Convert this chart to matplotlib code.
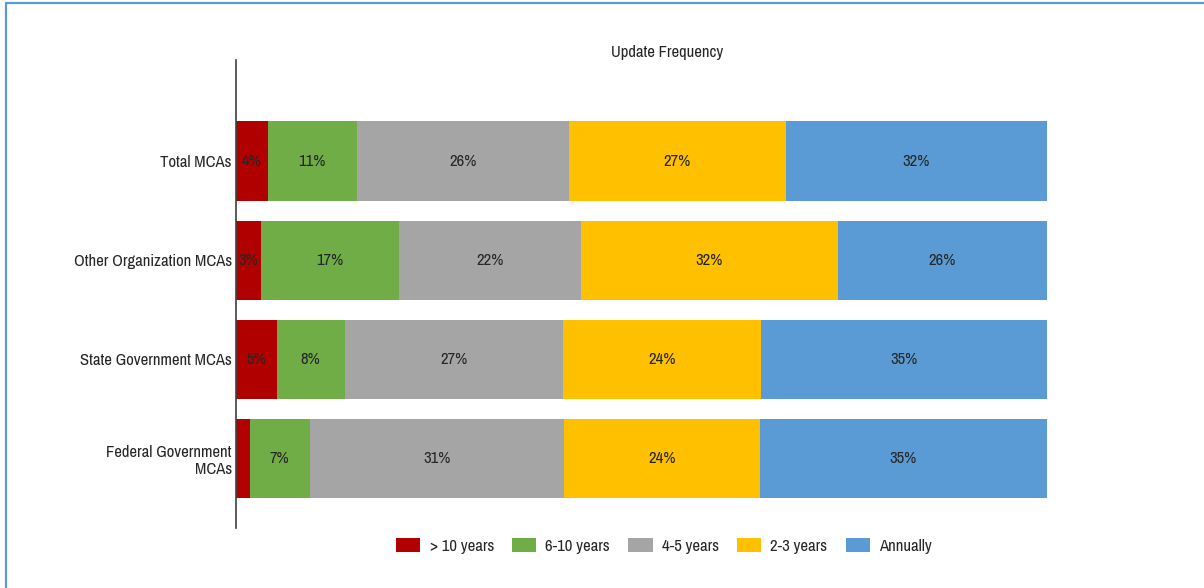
import matplotlib
matplotlib.use("Agg")
import matplotlib.pyplot as plt
from matplotlib.patches import Rectangle
from matplotlib import font_manager

# ---------------------------------------------------------------------------
# data (percent of MCAs per update frequency)
# ---------------------------------------------------------------------------
groups = ["Federal Government\nMCAs", "State Government MCAs",
          "Other Organization MCAs", "Total MCAs"]
series = ["> 10 years", "6-10 years", "4-5 years", "2-3 years", "Annually"]
over_10 = [1.7, 5.0, 3.1, 3.9]
y6_10 = [7.4, 8.4, 17.0, 11.0]
y4_5 = [31.4, 26.9, 22.4, 26.1]
y2_3 = [24.1, 24.4, 31.7, 26.8]
annual = [35.4, 35.3, 25.8, 32.2]
values = [over_10, y6_10, y4_5, y2_3, annual]
colors = ["#B00000", "#70AD47", "#A5A5A5", "#FFC000", "#5B9BD5"]

# pick a narrow sans (the original uses Arial Narrow)
have = {f.name for f in font_manager.fontManager.ttflist}
prefs = ["Liberation Sans Narrow", "Arial Narrow", "Archivo Narrow", "PT Sans Narrow",
         "Roboto Condensed", "Open Sans Condensed", "Fira Sans Condensed",
         "IBM Plex Sans Condensed", "Encode Sans Condensed", "Sofia Sans Condensed",
         "Liberation Sans"]
fam = next((p for p in prefs if p in have), "DejaVu Sans")
plt.rcParams["font.family"] = [fam, "DejaVu Sans"]
txt = "#262626"
fs = 12 if fam != "Liberation Sans" else 10.5

fig = plt.figure(figsize=(12.04, 5.88), dpi=100)
W, H = 1204, 588
ax = fig.add_axes([236 / W, 1 - 528 / H, (1047 - 236) / W, (528 - 60) / H])

ypos = list(range(len(groups)))
left = [0.0] * len(groups)
for name, vals, c in zip(series, values, colors):
    ax.barh(ypos, vals, left=left, height=0.8, color=c, label=name, edgecolor="none")
    for y, v, l in zip(ypos, vals, left):
        if v >= 2.5:
            ax.text(l + v / 2, y, f"{v:.0f}%", ha="center", va="center",
                    fontsize=fs, color=txt)
    left = [a + b for a, b in zip(left, vals)]

ax.set_xlim(0, 100)
ax.set_ylim(-0.70, 4.02)
ax.set_yticks(ypos)
ax.set_yticklabels(groups, fontsize=fs, color=txt)
ax.tick_params(axis="y", length=0, pad=3)
ax.set_xticks([])
for s in ["top", "right", "bottom"]:
    ax.spines[s].set_visible(False)
ax.spines["left"].set_color("#404040")
ax.spines["left"].set_linewidth(1.2)

fig.text(667 / W, 1 - 52 / H, "Update Frequency", ha="center", va="center",
         fontsize=fs, color=txt)

fig.legend(loc="center", bbox_to_anchor=(664 / W, 1 - 546 / H), ncol=5,
           frameon=False, fontsize=fs, handlelength=1.45, handleheight=0.9,
           handletextpad=0.55, columnspacing=1.1, labelcolor=txt)

# light blue frame around the chart area
fig.patches.append(Rectangle((6 / W, -0.05), 1.1, 1 - 3.5 / H + 0.05,
                             transform=fig.transFigure, fill=False,
                             edgecolor="#5B9BD5", linewidth=1.6))

fig.savefig("out.png", dpi=100)
